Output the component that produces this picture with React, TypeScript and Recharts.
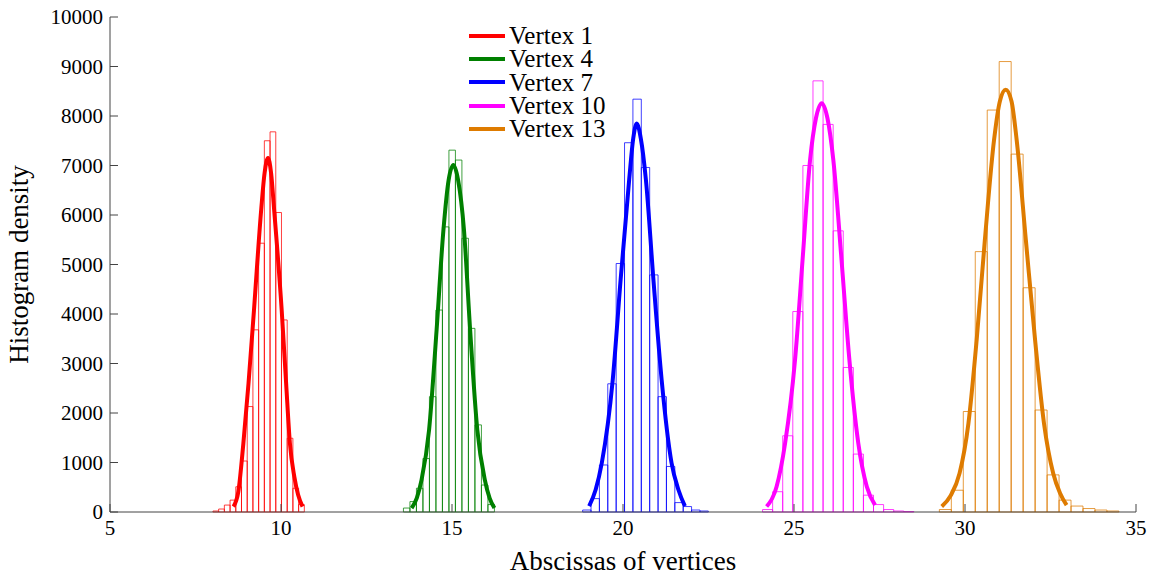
import { ComposedChart, Line, XAxis, YAxis, ReferenceArea, Legend, Label } from "recharts";

const SERIES_NAMES = ["Vertex 1", "Vertex 4", "Vertex 7", "Vertex 10", "Vertex 13"];
const SERIES_COLORS = ["#ff0000", "#008000", "#0000ff", "#ff00ff", "#de7b00"];

const X_TICKS = [5, 10, 15, 20, 25, 30, 35];
const Y_TICKS = [0, 1000, 2000, 3000, 4000, 5000, 6000, 7000, 8000, 9000, 10000];

// histogram: first bin edge, bin width and bar heights for each vertex
const BIN_STARTS = [8.01, 13.58, 18.82, 24.08, 29.25];
const BIN_WIDTHS = [0.167, 0.19, 0.245, 0.295, 0.35];

const vertex1Bins = [20, 60, 140, 240, 510, 1030, 2130, 3680, 5430, 7500, 7680, 6050, 3880, 1490, 480, 150];
const vertex4Bins = [80, 210, 480, 1080, 2330, 4080, 5760, 7310, 7110, 5530, 3710, 1760, 545, 150];
const vertex7Bins = [40, 270, 950, 2590, 5020, 7460, 8340, 6960, 4790, 2330, 920, 190, 110, 40, 20];
const vertex10Bins = [50, 410, 1540, 4050, 7000, 8710, 7830, 5680, 2920, 1170, 340, 150, 50, 20, 10];
const vertex13Bins = [50, 440, 2030, 5260, 8120, 9100, 7230, 4530, 2060, 750, 240, 120, 70, 40, 20];

// fitted density curves
const vertex1Curve = [
  { x: 8.61, y: 110 }, { x: 8.75, y: 400 }, { x: 8.9, y: 1390 }, { x: 9.05, y: 2600 },
  { x: 9.21, y: 4080 }, { x: 9.42, y: 6100 }, { x: 9.52, y: 6850 }, { x: 9.62, y: 7150 },
  { x: 9.71, y: 6850 }, { x: 9.8, y: 6100 }, { x: 10.02, y: 4080 }, { x: 10.15, y: 2600 },
  { x: 10.26, y: 1390 }, { x: 10.39, y: 710 }, { x: 10.5, y: 350 }, { x: 10.63, y: 110 },
];
const vertex4Curve = [
  { x: 13.82, y: 80 }, { x: 13.97, y: 280 }, { x: 14.11, y: 650 }, { x: 14.33, y: 1660 },
  { x: 14.55, y: 3680 }, { x: 14.75, y: 5700 }, { x: 14.9, y: 6700 }, { x: 15.04, y: 7010 },
  { x: 15.18, y: 6700 }, { x: 15.35, y: 5700 }, { x: 15.53, y: 3680 }, { x: 15.74, y: 1660 },
  { x: 15.96, y: 650 }, { x: 16.1, y: 280 }, { x: 16.24, y: 80 },
];
const vertex7Curve = [
  { x: 19.01, y: 120 }, { x: 19.2, y: 450 }, { x: 19.38, y: 990 }, { x: 19.7, y: 2670 },
  { x: 19.93, y: 4690 }, { x: 20.18, y: 6710 }, { x: 20.3, y: 7550 }, { x: 20.4, y: 7850 },
  { x: 20.52, y: 7550 }, { x: 20.67, y: 6710 }, { x: 20.89, y: 4690 }, { x: 21.13, y: 2670 },
  { x: 21.42, y: 990 }, { x: 21.62, y: 450 }, { x: 21.81, y: 120 },
];
const vertex10Curve = [
  { x: 24.2, y: 110 }, { x: 24.49, y: 510 }, { x: 24.74, y: 1390 }, { x: 25.03, y: 3070 },
  { x: 25.25, y: 5090 }, { x: 25.47, y: 7110 }, { x: 25.64, y: 7950 }, { x: 25.81, y: 8260 },
  { x: 25.98, y: 7950 }, { x: 26.15, y: 7110 }, { x: 26.39, y: 5090 }, { x: 26.62, y: 3070 },
  { x: 26.88, y: 1390 }, { x: 27.13, y: 510 }, { x: 27.37, y: 140 },
];
const vertex13Curve = [
  { x: 29.32, y: 110 }, { x: 29.58, y: 330 }, { x: 29.84, y: 780 }, { x: 30.1, y: 1790 },
  { x: 30.34, y: 3470 }, { x: 30.58, y: 5490 }, { x: 30.85, y: 7520 }, { x: 31.02, y: 8300 },
  { x: 31.19, y: 8530 }, { x: 31.36, y: 8300 }, { x: 31.51, y: 7520 }, { x: 31.78, y: 5490 },
  { x: 32.05, y: 3470 }, { x: 32.31, y: 1790 }, { x: 32.58, y: 780 }, { x: 32.78, y: 380 },
  { x: 32.97, y: 140 },
];

const ALL_BINS = [vertex1Bins, vertex4Bins, vertex7Bins, vertex10Bins, vertex13Bins];
const ALL_CURVES = [vertex1Curve, vertex4Curve, vertex7Curve, vertex10Curve, vertex13Curve];

const AXIS_COLOR = "#444";
const FONT = "'Liberation Serif', 'Times New Roman', serif";

// legend keeps the series order of the figure
const renderLegend = () => (
  <div style={{ fontFamily: FONT }}>
    {SERIES_NAMES.map((name, i) => (
      <div key={name} style={{ display: "flex", alignItems: "center", height: 23.3 }}>
        <svg width={36} height={6} style={{ display: "block" }}>
          <line x1={0} y1={3} x2={36} y2={3} stroke={SERIES_COLORS[i]} strokeWidth={4} />
        </svg>
        <span style={{ fontSize: 25, marginLeft: 4, color: "#000", lineHeight: "23px", whiteSpace: "nowrap" }}>{name}</span>
      </div>
    ))}
  </div>
);

const YTitle = (props: any) => {
  const vb = props.viewBox;
  const cx = 28;
  const cy = vb.y + vb.height / 2;
  return (
    <text x={cx} y={cy} transform={`rotate(-90, ${cx}, ${cy})`} textAnchor="middle" fontSize={27} fill="#000" fontFamily={FONT}>
      Histogram density
    </text>
  );
};

export default function App() {
  return (
    <div style={{ position: "absolute", left: 0, top: 0, fontFamily: FONT, background: "#fff" }}>
      <style>{`.recharts-text, .recharts-cartesian-axis-tick-value { font-family: 'Liberation Serif', 'Times New Roman', serif; }`}</style>
      <ComposedChart width={1153} height={577} margin={{ top: 17, right: 17, bottom: 0, left: 0 }}>
        <XAxis
          type="number"
          dataKey="x"
          domain={[5, 35]}
          ticks={X_TICKS}
          allowDataOverflow
          height={65}
          tickSize={-8}
          tickMargin={16}
          stroke={AXIS_COLOR}
          tick={{ fill: "#000", fontSize: 21, fontFamily: FONT }}
        >
          <Label value="Abscissas of vertices" position="insideBottom" offset={7} style={{ fontSize: 27, fill: "#000", fontFamily: FONT }} />
        </XAxis>
        <XAxis
          xAxisId="top"
          orientation="top"
          type="number"
          dataKey="x"
          domain={[5, 35]}
          ticks={X_TICKS}
          allowDataOverflow
          height={0}
          tickSize={-8}
          tick={false}
          stroke={AXIS_COLOR}
        />
        <YAxis
          type="number"
          domain={[0, 10000]}
          ticks={Y_TICKS}
          allowDataOverflow
          width={110}
          tickSize={-8}
          tickMargin={15}
          stroke={AXIS_COLOR}
          tick={{ fill: "#000", fontSize: 21, fontFamily: FONT }}
        >
          <Label content={<YTitle />} />
        </YAxis>
        <YAxis
          yAxisId="right"
          orientation="right"
          type="number"
          domain={[0, 10000]}
          ticks={Y_TICKS}
          allowDataOverflow
          width={0}
          tickSize={-8}
          tick={false}
          stroke={AXIS_COLOR}
        />
        {ALL_BINS.map((bins, s) =>
          bins.map((h, i) => (
            <ReferenceArea
              key={`bin-${s}-${i}`}
              x1={BIN_STARTS[s] + i * BIN_WIDTHS[s]}
              x2={BIN_STARTS[s] + (i + 1) * BIN_WIDTHS[s]}
              y1={0}
              y2={h}
              fill="#fff"
              fillOpacity={0}
              stroke={SERIES_COLORS[s]}
              strokeOpacity={0.75}
              strokeWidth={1}
              ifOverflow="visible"
            />
          ))
        )}
        {ALL_CURVES.map((curve, s) => (
          <Line
            key={SERIES_NAMES[s]}
            name={SERIES_NAMES[s]}
            data={curve}
            dataKey="y"
            type="monotone"
            stroke={SERIES_COLORS[s]}
            strokeWidth={4}
            dot={false}
            activeDot={false}
            isAnimationActive={false}
          />
        ))}
        <Legend
          layout="vertical"
          verticalAlign="middle"
          align="center"
          content={renderLegend}
          wrapperStyle={{ left: 469, top: 24, width: "auto" }}
        />
      </ComposedChart>
    </div>
  );
}
